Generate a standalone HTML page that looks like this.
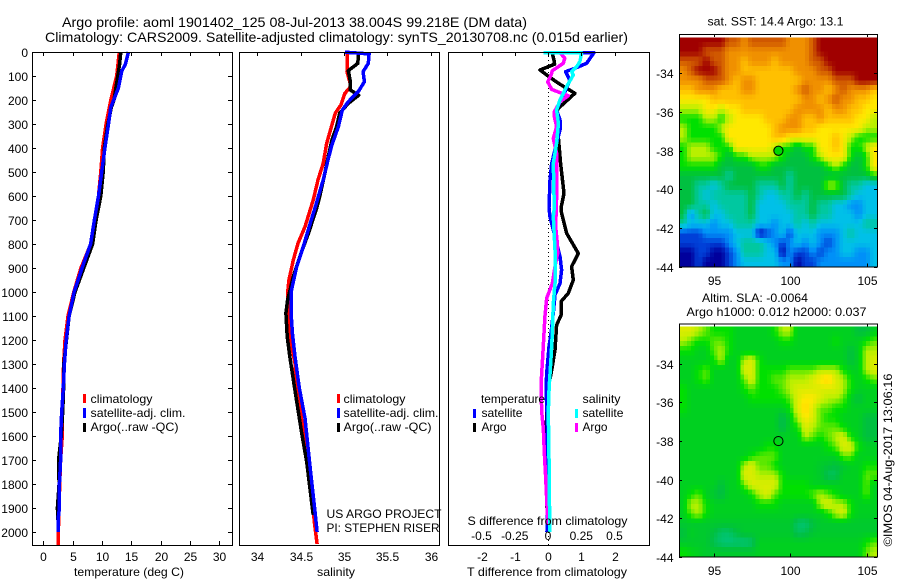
<!DOCTYPE html>
<html>
<head>
<meta charset="utf-8">
<title>Argo profile</title>
<style>
html,body{margin:0;padding:0;background:#fff;width:900px;height:580px;overflow:hidden}
svg{display:block}
text{font-family:"Liberation Sans",sans-serif;font-size:12px;fill:#000}
.t{font-size:14px}
.s{font-size:12px}
</style>
</head>
<body>
<svg id="chart" xmlns="http://www.w3.org/2000/svg" width="900" height="580" viewBox="0 0 900 580">
<rect x="0" y="0" width="900" height="580" fill="#fff"/>
<text class="t" x="62" y="27" textLength="465" lengthAdjust="spacingAndGlyphs">Argo profile: aoml 1901402_125 08-Jul-2013 38.004S 99.218E (DM data)</text>
<text class="t" x="45" y="42" textLength="583" lengthAdjust="spacingAndGlyphs">Climatology: CARS2009. Satellite-adjusted climatology: synTS_20130708.nc (0.015d earlier)</text>

<g id="heatmaps"></g>
<g id="profiles"></g>
<g id="axes"></g>

<g>
<rect x="83" y="394" width="3" height="9" fill="#f00"/>
<rect x="83" y="408" width="3" height="10" fill="#00f"/>
<rect x="83" y="423" width="3" height="9" fill="#000"/>
<text x="90.5" y="403" textLength="62" lengthAdjust="spacingAndGlyphs">climatology</text>
<text x="90.5" y="417" textLength="95" lengthAdjust="spacingAndGlyphs">satellite-adj. clim.</text>
<text x="90.5" y="431" textLength="88" lengthAdjust="spacingAndGlyphs">Argo(..raw -QC)</text>
</g>
<g>
<rect x="337" y="394" width="3" height="9" fill="#f00"/>
<rect x="337" y="408" width="3" height="10" fill="#00f"/>
<rect x="337" y="423" width="3" height="9" fill="#000"/>
<text x="343.5" y="403" textLength="62" lengthAdjust="spacingAndGlyphs">climatology</text>
<text x="343.5" y="417" textLength="95" lengthAdjust="spacingAndGlyphs">satellite-adj. clim.</text>
<text x="343.5" y="431" textLength="88" lengthAdjust="spacingAndGlyphs">Argo(..raw -QC)</text>
</g>
<g>
<text x="481" y="403" textLength="64" lengthAdjust="spacingAndGlyphs">temperature</text>
<text x="582.5" y="403" textLength="38" lengthAdjust="spacingAndGlyphs">salinity</text>
<rect x="473" y="409" width="3" height="9" fill="#00f"/>
<rect x="473" y="423" width="3" height="9" fill="#000"/>
<rect x="575" y="409" width="3" height="9" fill="#0ff"/>
<rect x="575" y="423" width="3" height="9" fill="#f0f"/>
<text x="481.5" y="417" textLength="41" lengthAdjust="spacingAndGlyphs">satellite</text>
<text x="481.5" y="431" textLength="25" lengthAdjust="spacingAndGlyphs">Argo</text>
<text x="582.5" y="417" textLength="41" lengthAdjust="spacingAndGlyphs">satellite</text>
<text x="582.5" y="431" textLength="25" lengthAdjust="spacingAndGlyphs">Argo</text>
</g>

<text x="74" y="576" textLength="110" lengthAdjust="spacingAndGlyphs">temperature (deg C)</text>
<text x="317" y="576" textLength="38" lengthAdjust="spacingAndGlyphs">salinity</text>
<text x="467" y="576" textLength="160" lengthAdjust="spacingAndGlyphs">T difference from climatology</text>
<text x="467.5" y="525" textLength="160" lengthAdjust="spacingAndGlyphs">S difference from climatology</text>
<text x="326.5" y="518" textLength="115" lengthAdjust="spacingAndGlyphs">US ARGO PROJECT</text>
<text x="326.5" y="532" textLength="113" lengthAdjust="spacingAndGlyphs">PI: STEPHEN RISER</text>

<text x="707.5" y="25.5" textLength="136" lengthAdjust="spacingAndGlyphs">sat. SST: 14.4  Argo: 13.1</text>
<text x="702" y="302" textLength="106" lengthAdjust="spacingAndGlyphs">Altim. SLA: -0.0064</text>
<text x="686.5" y="316" textLength="180" lengthAdjust="spacingAndGlyphs">Argo h1000: 0.012 h2000: 0.037</text>
<text transform="translate(892,546.5) rotate(-90)" textLength="173" lengthAdjust="spacingAndGlyphs">©IMOS 04-Aug-2017 13:06:16</text>
</svg>

<script>
// ---- profile data: depth (m) and value ----
const climTempDepth = [0,100,200,300,400,500,600,700,800,900,1000,1100,1200,1300,1400,1500,1600,1610,1700,1800,1900,2000,2055];
const climTempValue = [12.95,12.5,11.5,10.7,10.1,9.8,9.4,8.8,8.1,6.4,5.2,4.2,3.7,3.45,3.35,3.2,3.25,3.2,2.95,2.8,2.7,2.55,2.5];
const argoTempDepth = [0,50,100,200,230,300,400,500,600,700,800,900,1000,1100,1300,1400,1500,1600,1700,1800,1900,1950];
const argoTempValue = [13.2,13,12.7,12.05,11.6,11,10.4,10.2,9.8,9,8.4,6.9,5.4,4.4,3.5,3.45,3.3,3.05,2.6,2.7,2.4,2.5];
const satTempDepth = [0,50,80,100,150,200,230,300,400,500,600,700,800,900,1000,1100,1200,1300,1400,1500,1600,1700,1800,1900,1950,2000];
const satTempValue = [14.5,14,13.35,13.2,12.8,12,11.5,11.1,10.5,9.95,9.4,8.7,8.05,6.6,5.25,4.4,3.9,3.6,3.4,3.13,2.95,2.95,2.75,2.75,2.5,2.5];

const climSalDepth = [5,82,130,147,172,220,255,304,380,464,533,617,728,797,867,950,1005,1088,1172,1242,1297,1387,1600,1800,1958,2050];
const climSalValue = [35.04,35.035,35.07,35.07,35.01,34.965,34.9,34.86,34.8,34.76,34.7,34.645,34.55,34.47,34.415,34.365,34.35,34.36,34.375,34.405,34.435,34.45,34.54,34.62,34.657,34.69];
const argoSalDepth = [3,47,78,117,158,180,214,255,311,367,464,505,603,650,755,853,936,1033,1088,1186,1269,1400,1583,1708,1929];
const argoSalValue = [35.165,35.16,35.05,35.07,35.07,35.17,35.05,34.95,34.915,34.86,34.8,34.78,34.72,34.685,34.59,34.49,34.415,34.35,34.33,34.345,34.375,34.43,34.51,34.57,34.645];
const satSalDepth = [1,8,47,82,124,165,207,242,311,387,443,533,650,714,811,894,992,1088,1172,1269,1400,1526,1734,1915,2000];
const satSalValue = [35.01,35.29,35.28,35.22,35.235,35.165,35.05,34.98,34.935,34.86,34.82,34.76,34.665,34.61,34.53,34.455,34.395,34.39,34.405,34.435,34.485,34.55,34.61,34.665,34.69];

const diffTArgoDepth = [5,40,51,75,96,130,172,235,262,353,464,589,650,672,755,839,894,950,1005,1040,1097,1138,1242,1325,1400,1500,1667,1800,1900];
const diffTArgoValue = [0.13,0.19,0.2,-0.24,-0.04,0.31,0.81,0.31,0.21,0.31,0.38,0.48,0.39,0.41,0.56,0.91,0.71,0.76,0.61,0.39,0.39,0.26,0.21,0.11,0.01,-0.03,-0.1,-0.05,-0.03];
const diffTSatDepth = [3,3.5,47,68,82,117,165,207,242,283,325,380,464,533,650,686,769,853,908,964,1012,1088,1172,1228,1339,1400,1500,1775,2000];
const diffTSatValue = [-0.14,1.38,1.16,0.81,0.53,0.66,0.51,0.36,0.26,0.36,0.36,0.26,0.11,0.06,0.03,0.06,0.21,0.36,0.41,0.36,0.21,0.16,0.09,0.03,-0.04,-0.06,-0.03,-0.02,-0.03];
const diffSArgoDepth = [3,26,47,78,96,124,156,172,182,207,249,269,311,360,422,603,728,797,840,894,964,1026,1102,1172,1269,1387,1500,1567,1667,1775,1917,1971];
const diffSArgoValue = [0.09,0.126,0.115,0.032,0.023,-0.002,0.028,0.103,0.153,0.09,0.047,0.047,0.065,0.04,0.065,0.065,0.058,0.07,0.072,0.053,0.032,-0.01,-0.023,-0.03,-0.04,-0.053,-0.047,-0.035,-0.028,-0.017,-0.005,0.002];
const diffSSatDepth = [3,3.5,40,61,82,96,144,200,242,297,380,464,650,686,825,964,1047,1172,1269,1400,1500,1775,2000];
const diffSSatValue = [-0.035,0.253,0.24,0.216,0.178,0.19,0.14,0.09,0.065,0.078,0.065,0.04,0.047,0.04,0.053,0.053,0.04,0.032,0.023,0.008,0.002,0.01,0.013];

// ---- tick labels ----
const depthTicks = [0,100,200,300,400,500,600,700,800,900,1000,1100,1200,1300,1400,1500,1600,1700,1800,1900,2000];
const tempTicks = [0,5,10,15,20,25,30];
const salTicks = ['34','34.5','35','35.5','36'];
const diffSTicks = ['-0.5','-0.25','0','0.25','0.5'];
const diffTTicks = ['-2','-1','0','1','2'];
const lonTicks = [95,100,105];
const latTicks = [-34,-36,-38,-40,-42,-44];

// ---- float position ----
const floatLon = 99.218;
const floatLat = -38.004;

// ---- SST map levels (rows north to south, 0 = coldest, 12 = warmest) ----
const sstGrid = [
[12,12,12,12,12,12,11,11,10,11,11,11,11,11,10,10,10,11,12,12,12,12,12,12,12,12],
[12,12,12,11,11,11,10,10,10,10,10,10,10,10,10,10,10,11,12,12,12,12,12,12,12,12],
[11,11,11,12,11,11,10,10,9,10,10,10,9,10,10,10,10,11,11,12,12,12,12,12,12,12],
[10,11,12,12,12,11,10,10,9,9,9,9,9,9,9,10,10,10,11,11,12,12,12,12,12,12],
[10,10,10,11,11,11,10,9,10,10,9,9,9,9,9,9,10,10,10,10,11,11,11,12,12,12],
[9,9,10,10,10,9,9,9,10,10,9,9,9,9,9,10,11,10,10,9,10,11,10,10,10,9],
[8,8,8,8,9,9,9,9,9,9,9,9,9,9,9,9,10,10,9,10,11,10,10,9,9,8],
[7,7,7,8,8,7,8,8,9,9,9,9,9,9,9,10,10,10,10,9,10,10,9,9,8,8],
[6,6,6,7,7,6,7,8,8,8,8,9,9,9,10,10,9,9,10,9,9,9,9,8,8,7],
[7,6,6,6,6,7,8,8,8,8,8,8,9,10,10,10,9,9,8,8,8,8,8,8,7,7],
[7,6,6,6,6,6,8,8,8,8,8,8,9,9,8,8,8,8,8,8,9,8,7,6,6,6],
[6,7,7,7,6,6,6,8,8,8,8,8,7,6,6,5,6,6,8,8,9,8,6,6,7,8],
[6,7,7,7,7,6,5,6,6,7,7,7,7,6,5,5,5,6,7,8,8,8,6,5,6,8],
[6,6,6,6,6,5,5,5,5,5,6,6,5,5,5,5,5,5,5,6,7,6,5,5,6,8],
[5,5,5,5,5,5,4,5,5,5,5,5,5,5,4,5,5,5,5,5,5,5,5,5,5,6],
[5,5,4,4,3,4,5,5,5,5,4,4,4,5,4,5,5,5,5,7,7,5,4,4,3,3],
[5,5,4,3,4,4,4,4,4,5,4,3,3,4,4,5,4,5,5,5,5,5,4,3,3,3],
[5,5,4,4,3,4,4,4,4,5,3,3,3,3,4,4,4,5,4,4,3,3,2,2,3,3],
[5,2,4,5,3,3,4,4,4,5,3,3,3,3,3,4,4,5,4,4,3,3,3,2,3,3],
[4,3,3,3,2,3,3,4,4,4,3,3,2,3,3,4,3,4,3,3,3,3,3,3,4,4],
[1,1,1,2,2,2,2,3,3,3,0,1,2,3,1,3,3,3,2,2,2,3,4,3,3,3],
[1,1,1,1,1,1,2,3,4,4,4,3,2,1,2,3,2,3,2,1,2,3,3,3,3,3],
[0,0,1,1,0,0,1,2,4,4,4,3,3,0,2,1,1,2,1,2,2,3,3,2,2,3],
[0,0,1,0,0,0,1,2,3,3,3,3,3,2,2,0,1,1,2,2,2,2,2,2,2,3]
];

// ---- SLA map levels on the same scale ----
const slaGrid = [
[7.5,7.5,7,6.5,6,6,6,5.5,5.5,5.5,5.5,5.5,6,7,7,5.5,5.5,5.5,5.5,5.5,5.5,5.5,5.5,5,5,5.5],
[7,6.5,6,6,6.5,6.5,6,5.5,5.5,5.5,5.5,5.5,5.5,6,6,5.5,5.5,5.5,5.5,5.5,6,5.5,5.5,5.5,6,6.5],
[6,6,5.5,5.5,6.5,7,6,5.5,5.5,5.5,5.5,5.5,5.5,5.5,5.5,5.5,5.5,5.5,5.5,5.5,5.5,5.5,5,5.5,7,7],
[5.5,5.5,5.5,5.5,6,7,5.5,5.5,7,7.5,6,5.5,5.5,5.5,5.5,5.5,5.5,5.5,5.5,5.5,5.5,5.5,5,5.5,7,7.5],
[5.5,5.5,6,6.5,5.5,5.5,5.5,5.5,7.5,7.5,6,6,6,6,6.5,6.5,6.5,6.5,7,7,7,6,5.5,5.5,7,7.5],
[5.5,5.5,6,6.5,5.5,5.5,5.5,5.5,6.5,7.5,6,6,6.5,6.5,7,7,7,7.5,8,8.5,7.5,7,6,5.5,6,6.5],
[6,5.5,5.5,5.5,5.5,5.5,5.5,5.5,6,6.5,6,6,6,6.5,7,7.5,7.5,7.5,7.5,7.5,7.5,7,6,5.5,5.5,5.5],
[6,5.5,5.5,5.5,5.5,5.5,5.5,5.5,5.5,6,6,6,6,6,6.5,7.5,8,8,7.5,7,7,6.5,5.5,5,5.5,5.5],
[6,5.5,5.5,5.5,5.5,5.5,5.5,5.5,5.5,5.5,5.5,5.5,5.5,5.5,6,7.5,8.5,7.5,6.5,6.5,6,6,5.5,5.5,5.5,5.5],
[5.5,5.5,5.5,5.5,5.5,5.5,5.5,5.5,5.5,5.5,5.5,5.5,5.5,4.8,5.5,7,8,7.5,6.5,6,6,5.5,5.5,5.5,5,5],
[5.5,5.5,5.5,5.5,5.5,5.5,5.5,5.5,5.5,5.5,5.5,5.5,5.5,4.8,5.5,6,7.5,7,6.5,6.5,6.5,6,5.5,5.5,5,5],
[5.5,5.5,5.5,5.5,5.5,5.5,5.5,5.5,5.5,5.5,5.5,5.5,5.5,5.5,5.5,5.5,7,6.5,6,6.5,7,7.5,6,5.5,5,5],
[5.5,5.5,5.5,5.5,5.5,5.5,5.5,5.5,5.5,5.5,5.5,6,6,5.5,5.5,5.5,5.5,5.5,5.5,6,6.5,7.5,7.5,6,5.5,5.5],
[5.5,5.5,5.5,5.5,5.5,5.5,5.5,5.5,5.5,6,6.5,6.5,6.5,5.5,5.5,5.5,5.5,5.5,5.5,5.5,5.5,6.5,6.5,5.5,5.5,5.5],
[5.5,5.5,5.5,5.5,5.5,5.5,5.5,5.5,7,7.5,6.5,6.5,6,5.5,5.5,5.5,5.5,5.5,5.3,5.2,5,5.2,5.5,5.5,6,6],
[5.5,5.5,5.5,5.5,5.5,5.5,5.5,5.5,7.5,7.5,7,7,7,6,5.5,5.5,5.5,5.5,5.3,4.7,4.7,5.5,5.5,5.5,6.5,6.5],
[5.5,5.5,5.5,5.5,5.5,5,5.5,5.5,6.5,7.5,7.5,7.5,7.5,6,6,6,6,5.5,5.5,5.5,5.5,5.5,5.5,5.5,6.5,5.5],
[5.5,6,6.5,5.5,5.2,4.9,5.5,5.5,5.5,6,7,7.5,6.5,6,6,6,6,6.5,7,6.5,6,5.5,5.5,5.5,6.5,5.5],
[5.5,7,7,6,5.5,5.5,5.5,5.5,5.5,5.5,6,6,6,5.5,5.5,5.5,5.5,5.5,7,7.5,7,7,6,5.5,5.5,5.5],
[5.5,6.5,7,6,5.5,5.5,5.5,5.5,5.5,5.5,5.5,5.5,5.5,5.5,5.5,5.5,5.5,5.5,5.5,6,7,7.5,6,5.5,5.5,5.5],
[5.3,5.3,5.3,5.3,5.3,5.3,5.3,5.3,5.3,5.3,5.3,5.3,5.3,5.3,5.3,4.6,4.5,5,5.3,5.3,5.3,5.3,5.3,5.3,5.3,5.3],
[5,5.5,5.3,5.3,5,4.6,4.6,5,5.3,5.3,5.3,5.3,5.3,5.3,5.3,4.7,4.8,5.2,5.3,5.3,5.3,5.3,5.3,5.3,5.3,5.3],
[5.3,5.3,5.3,5.3,4.8,4.5,4.4,4.5,4.4,4.6,5.5,5.5,5.5,5.5,5.5,5.5,5.5,5.5,5.5,5.5,5.5,5.5,5.5,5.5,6,6.5],
[6,5.7,5.5,5.3,5.3,5.3,5.3,5.3,5.3,5.3,5.5,5.5,5.5,5.5,5.5,5.5,5.5,5.5,5.5,5.5,5.5,5.5,5.5,5.5,6.5,7]
];

// ---- colour scale ----
const colorStops = [[0,0,156],[0,64,216],[0,144,248],[0,192,232],[0,200,160],[0,192,64],[0,224,0],[184,240,0],[255,232,0],[255,192,0],[240,144,0],[208,88,0],[160,0,0]];
function colorFor(v){
  const i=Math.max(0,Math.min(colorStops.length-2,Math.floor(v)));
  const f=Math.max(0,Math.min(1,v-i));
  const a=colorStops[i],b=colorStops[i+1];
  return 'rgb('+[0,1,2].map(function(k){return Math.round(a[k]+(b[k]-a[k])*f);}).join(',')+')';
}

// ---- axis functions ----
function yDepth(d){return 52+d*0.24;}
function xTemp(t){return 43.3+t*5.87;}
function xSal(s){return 344+(s-35)*86.7;}
function xDiffT(t){return 548+t*33.25;}
function xDiffS(s){return 548+s*133;}
function xLon(lon){return 714+(lon-95)*15.27;}
function yLatTop(lat){return 150.7+(-38-lat)*19.35;}
function yLatBottom(lat){return 441+(-38-lat)*19.28;}

const NS='http://www.w3.org/2000/svg';
const gAxes=document.getElementById('axes');
const gProfiles=document.getElementById('profiles');
const gMaps=document.getElementById('heatmaps');

function mk(tag,parent,attrs){
  const e=document.createElementNS(NS,tag);
  for(const k in attrs){e.setAttribute(k,attrs[k]);}
  parent.appendChild(e);
  return e;
}
function tickLine(x1,y1,x2,y2){
  const l=mk('line',gAxes,{x1:x1,y1:y1,x2:x2,y2:y2,stroke:'#000','stroke-width':1,'shape-rendering':'crispEdges'});
  
  
}
function tickText(x,y,anchor,str){
  const t=mk('text',gAxes,{x:x,y:y,'text-anchor':anchor});
  t.textContent=str;
  
  
}
function frame(x,y,w,h){
  const r=mk('rect',gAxes,{x:x+0.5,y:y+0.5,width:w,height:h,fill:'none',stroke:'#000','stroke-width':1,'shape-rendering':'crispEdges'});
  
  
}
function series(depths,values,xf,color,width,name){
  const pts=depths.map(function(d,i){return xf(values[i]).toFixed(1)+','+yDepth(d).toFixed(1);}).join(' ');
  const p=mk('polyline',gProfiles,{points:pts,fill:'none',stroke:color,'stroke-width':width,'stroke-linejoin':'round','shape-rendering':'crispEdges'});
  
  
}
// samples a grid between its rows and columns so each value renders as soft 2x2 pixels
function sampleGrid(grid,r,c){
  const rows=grid.length,cols=grid[0].length;
  const rr=Math.max(0,Math.min(rows-1,r)),cc=Math.max(0,Math.min(cols-1,c));
  const r0=Math.floor(rr),c0=Math.floor(cc),r1=Math.min(rows-1,r0+1),c1=Math.min(cols-1,c0+1);
  const fr=rr-r0,fc=cc-c0;
  return (grid[r0][c0]*(1-fc)+grid[r0][c1]*fc)*(1-fr)+(grid[r1][c0]*(1-fc)+grid[r1][c1]*fc)*fr;
}
function heatmap(grid,topPx,bottomPx,name){
  const x0=679.5,x1=877.5,sub=2,rows=grid.length*sub,cols=grid[0].length*sub;
  const cw=(x1-x0)/cols,ch=(bottomPx-topPx)/rows;
  for(let r=0;r<rows;r++){
    for(let c=0;c<cols;c++){
      const v=sampleGrid(grid,(r+0.5)/sub-0.5,(c+0.5)/sub-0.5);
      const cell=mk('rect',gMaps,{x:(x0+c*cw).toFixed(2),y:(topPx+r*ch).toFixed(2),width:(cw+0.6).toFixed(2),height:(ch+0.6).toFixed(2),fill:colorFor(v),'shape-rendering':'crispEdges'});
      
      
    }
  }
}

// heatmaps
heatmap(sstGrid,37.3,266.7,'sst-cell');
heatmap(slaGrid,326.7,556.7,'sla-cell');

// zero line on difference panel
const zero=mk('line',gProfiles,{x1:xDiffT(0)+0.5,y1:52,x2:xDiffT(0)+0.5,y2:545,stroke:'#000','stroke-width':1,'stroke-dasharray':'1 3','shape-rendering':'crispEdges'});



// profile series
series(climTempDepth,climTempValue,xTemp,'#f00',3.5,'temperature-climatology-line');
series(argoTempDepth,argoTempValue,xTemp,'#000',3.5,'temperature-argo-line');
series(satTempDepth,satTempValue,xTemp,'#00f',3.5,'temperature-satellite-line');
series(climSalDepth,climSalValue,xSal,'#f00',3.5,'salinity-climatology-line');
series(argoSalDepth,argoSalValue,xSal,'#000',3.5,'salinity-argo-line');
series(satSalDepth,satSalValue,xSal,'#00f',3.5,'salinity-satellite-line');
series(diffTArgoDepth,diffTArgoValue,xDiffT,'#000',3.5,'t-difference-argo-line');
series(diffTSatDepth,diffTSatValue,xDiffT,'#00f',3.5,'t-difference-satellite-line');
series(diffSArgoDepth,diffSArgoValue,xDiffS,'#f0f',3.5,'s-difference-argo-line');
series(diffSSatDepth,diffSSatValue,xDiffS,'#0ff',3.5,'s-difference-satellite-line');

// frames
frame(32,52,200,493);
frame(239,52,200,493);
frame(448,52,201,493);
frame(679,34,198,232.5);
frame(679,323.5,198,233);

// temperature panel ticks
depthTicks.forEach(function(d){
  const y=Math.round(yDepth(d))+0.5;
  tickLine(32,y,36,y);
  tickLine(228,y,232,y);
  tickText(28,y+4.5,'end',String(d));
});
tempTicks.forEach(function(t){
  const x=Math.round(xTemp(t))+0.5;
  tickLine(x,52,x,56);
  tickLine(x,541,x,545);
  tickText(x,561,'middle',String(t));
});

// salinity panel ticks
salTicks.forEach(function(s){
  const x=Math.round(xSal(parseFloat(s)))+0.5;
  tickLine(x,52,x,56);
  tickText(x,561,'middle',s);
});

// difference panel ticks
diffTTicks.forEach(function(t){
  const x=Math.round(xDiffT(parseFloat(t)))+0.5;
  tickLine(x,52,x,56);
  tickText(x,561,'middle',t);
});
diffSTicks.forEach(function(s){
  tickText(xDiffS(parseFloat(s)),540,'middle',s);
});

// map ticks
[[yLatTop,34,266.5,285],[yLatBottom,323.5,556.5,575]].forEach(function(m){
  const yf=m[0],top=m[1],bot=m[2],lab=m[3];
  lonTicks.forEach(function(lon){
    const x=Math.round(xLon(lon))+0.5;
    tickLine(x,top,x,top+3);
    tickLine(x,bot-3,x,bot);
    tickText(x,lab,'middle',String(lon));
  });
  latTicks.forEach(function(lat){
    const y=Math.round(yf(lat))+0.5;
    tickLine(679,y,682,y);
    tickLine(874,y,877,y);
    tickText(673.5,y+4.5,'end',String(lat));
  });
});

// float markers
const markerTop=mk('circle',gAxes,{cx:xLon(floatLon),cy:yLatTop(floatLat),r:4.6,fill:'#00d800',stroke:'#000','stroke-width':1});


const markerBottom=mk('circle',gAxes,{cx:xLon(floatLon),cy:yLatBottom(floatLat),r:4.6,fill:'none',stroke:'#000','stroke-width':1});


</script>
</body>
</html>
